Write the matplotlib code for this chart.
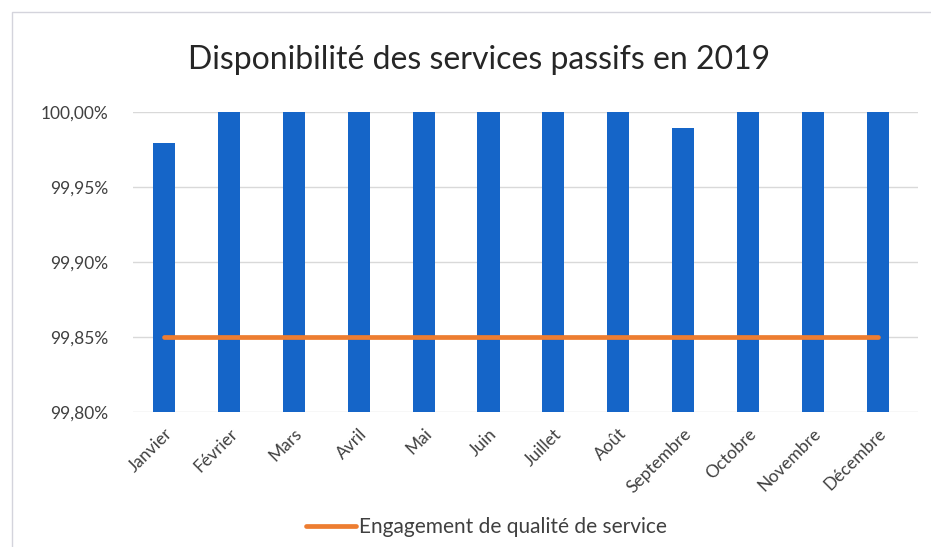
import matplotlib
matplotlib.use("Agg")
import matplotlib.pyplot as plt
from matplotlib.patches import Rectangle
from matplotlib.ticker import FuncFormatter

plt.rcParams['font.family'] = ['Lato', 'DejaVu Sans']

months = ["Janvier", "Février", "Mars", "Avril", "Mai", "Juin", "Juillet",
          "Août", "Septembre", "Octobre", "Novembre", "Décembre"]
availability = [99.979, 100.00, 100.00, 100.00, 100.00, 100.00, 100.00,
                100.00, 99.989, 100.00, 100.00, 100.00]
commitment = [99.85] * 12
title = "Disponibilité des services passifs en 2019"
legend_label = "Engagement de qualité de service"

W, H = 931, 547
fig = plt.figure(figsize=(W / 100, H / 100), dpi=100)
fig.patch.set_facecolor("white")

# light chart frame (top and left edges visible)
fig.add_artist(Rectangle((12 / W, -10 / H), (960 - 12) / W, (H - 12 + 10) / H,
                         transform=fig.transFigure, fill=False,
                         edgecolor="#d4d4dc", linewidth=1.0))

ax = fig.add_axes([133 / W, (H - 411.7) / H, (918 - 133) / W, 300 / H])
x = range(len(months))
ax.bar(x, [v - 99.80 for v in availability], bottom=99.80, width=0.34,
       color="#1565C8", zorder=2)
ax.plot(x, commitment, color="#ED7D31", linewidth=3.4, zorder=3,
        solid_capstyle="round", label=legend_label)

ax.set_ylim(99.80, 100.00)
ax.set_xlim(-0.48, 11.62)
ax.set_yticks([99.80, 99.85, 99.90, 99.95, 100.00])
ax.yaxis.set_major_formatter(FuncFormatter(lambda v, p: f"{v:.2f}%".replace(".", ",")))
ax.set_xticks(list(x))
ax.set_xticklabels(months, rotation=45, ha="right", rotation_mode="anchor")
ax.tick_params(axis="both", length=0, labelsize=12.5, colors="#404040")
ax.tick_params(axis="y", pad=18)
ax.tick_params(axis="x", pad=10)
ax.grid(axis="y", color="#d9d9d9", linewidth=1.0, zorder=0)
for s in ax.spines.values():
    s.set_visible(False)

fig.text(479 / W, 1 - 60 / H, title, ha="center", va="center",
         fontsize=23, color="#262626")

fig.legend(loc="center", bbox_to_anchor=(486 / W, 1 - 527 / H), frameon=False,
           fontsize=15, handlelength=2.4, handletextpad=0.15,
           labelcolor="#404040")

fig.savefig("out.png", dpi=100)
